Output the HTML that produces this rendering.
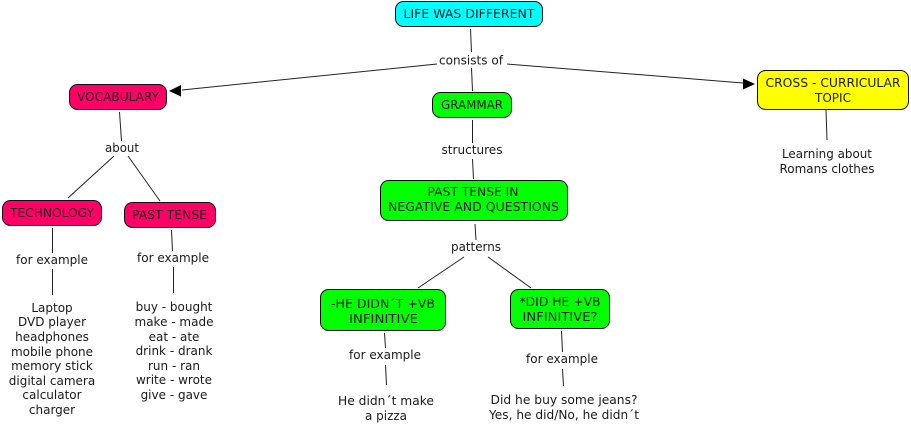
<!DOCTYPE html>
<html><head><meta charset="utf-8"><style>
html,body{margin:0;padding:0;background:#fff}
svg{display:block}
text{font-family:"DejaVu Sans","Liberation Sans",sans-serif;font-size:12px;fill:#1a1a1a;text-anchor:middle}
rect{stroke:#111;stroke-width:1}
line{stroke:#222;stroke-width:1}
</style></head><body>
<svg width="911" height="431" viewBox="0 0 911 431" xmlns="http://www.w3.org/2000/svg">
<g>
<line x1="470.500" y1="29" x2="471.500" y2="52"/>
<line x1="471.500" y1="68" x2="472.500" y2="91"/>
<line x1="437" y1="64" x2="182" y2="90"/>
<line x1="507" y1="64" x2="743" y2="83"/>
<line x1="119.500" y1="112" x2="121.500" y2="141"/>
<line x1="114" y1="156" x2="68" y2="198"/>
<line x1="128" y1="156" x2="160" y2="201"/>
<line x1="52.500" y1="228" x2="52.500" y2="253"/>
<line x1="52.500" y1="269" x2="52.500" y2="295"/>
<line x1="171.500" y1="230" x2="172.500" y2="251"/>
<line x1="173.500" y1="267" x2="173.500" y2="293"/>
<line x1="472.500" y1="120" x2="472.500" y2="143"/>
<line x1="472.500" y1="159" x2="473.500" y2="179"/>
<line x1="475" y1="224" x2="476" y2="240"/>
<line x1="464" y1="257" x2="418" y2="288"/>
<line x1="488" y1="257" x2="531" y2="288"/>
<line x1="384.500" y1="333" x2="385.500" y2="348"/>
<line x1="385.500" y1="365" x2="386.500" y2="385"/>
<line x1="561.500" y1="331" x2="562.500" y2="352"/>
<line x1="562.500" y1="369" x2="563.500" y2="386"/>
<line x1="826" y1="110" x2="827" y2="140"/>
</g>
<polygon points="169,91 181,85 181,96.500" fill="#000"/>
<polygon points="755,84 743,78.500 743,89.500" fill="#000"/>

<rect x="395.500" y="1.500" width="147" height="25" rx="8" fill="#00ffff"/>
<rect x="432.500" y="92.500" width="79" height="25" rx="8" fill="#00ff00"/>
<rect x="69.500" y="84.500" width="97" height="25" rx="8" fill="#ff0066"/>
<rect x="757.500" y="70.500" width="151" height="39" rx="8" fill="#ffff00"/>
<rect x="2.500" y="200.500" width="99" height="25" rx="8" fill="#ff0066"/>
<rect x="124.500" y="202.500" width="91" height="25" rx="8" fill="#ff0066"/>
<rect x="380.500" y="180.500" width="187" height="40" rx="8" fill="#00ff00"/>
<rect x="320.500" y="289.500" width="125" height="41" rx="8" fill="#00ff00"/>
<rect x="510.500" y="289.500" width="99" height="39" rx="8" fill="#00ff00"/>

<g>
<text x="469" y="18" textLength="131" lengthAdjust="spacingAndGlyphs">LIFE WAS DIFFERENT</text>
<text x="471" y="64.500" textLength="64" lengthAdjust="spacingAndGlyphs">consists of</text>
<text x="472" y="109" textLength="62" lengthAdjust="spacingAndGlyphs">GRAMMAR</text>
<text x="118" y="101" textLength="82" lengthAdjust="spacingAndGlyphs">VOCABULARY</text>
<text x="122" y="152" textLength="34" lengthAdjust="spacingAndGlyphs">about</text>
<text x="833" y="87" textLength="135" lengthAdjust="spacingAndGlyphs">CROSS - CURRICULAR</text>
<text x="833" y="102" textLength="36" lengthAdjust="spacingAndGlyphs">TOPIC</text>
<text x="827" y="158" textLength="90" lengthAdjust="spacingAndGlyphs">Learning about</text>
<text x="827" y="173" textLength="95" lengthAdjust="spacingAndGlyphs">Romans clothes</text>
<text x="52" y="217" textLength="84" lengthAdjust="spacingAndGlyphs">TECHNOLOGY</text>
<text x="169.500" y="219" textLength="75" lengthAdjust="spacingAndGlyphs">PAST TENSE</text>
<text x="52" y="264" textLength="72" lengthAdjust="spacingAndGlyphs">for example</text>
<text x="173" y="262" textLength="72" lengthAdjust="spacingAndGlyphs">for example</text>
<text x="52" y="312">Laptop</text>
<text x="52" y="326">DVD player</text>
<text x="52" y="341">headphones</text>
<text x="52" y="356">mobile phone</text>
<text x="52" y="370">memory stick</text>
<text x="52" y="385">digital camera</text>
<text x="52" y="399">calculator</text>
<text x="52" y="414">charger</text>
<text x="174" y="311">buy - bought</text>
<text x="174" y="326">make - made</text>
<text x="174" y="341">eat - ate</text>
<text x="174" y="355">drink - drank</text>
<text x="174" y="370">run - ran</text>
<text x="174" y="384">write - wrote</text>
<text x="174" y="399">give - gave</text>
<text x="472" y="154" textLength="61" lengthAdjust="spacingAndGlyphs">structures</text>
<text x="473" y="196" textLength="91" lengthAdjust="spacingAndGlyphs">PAST TENSE IN</text>
<text x="473.500" y="211" textLength="171" lengthAdjust="spacingAndGlyphs">NEGATIVE AND QUESTIONS</text>
<text x="476" y="251" textLength="50" lengthAdjust="spacingAndGlyphs">patterns</text>
<text x="383" y="308" textLength="104" lengthAdjust="spacingAndGlyphs">-HE DIDN´T +VB</text>
<text x="383.500" y="323" textLength="69" lengthAdjust="spacingAndGlyphs">INFINITIVE</text>
<text x="560" y="306" textLength="81" lengthAdjust="spacingAndGlyphs">*DID HE +VB</text>
<text x="560" y="321" textLength="75" lengthAdjust="spacingAndGlyphs">INFINITIVE?</text>
<text x="385" y="359" textLength="72" lengthAdjust="spacingAndGlyphs">for example</text>
<text x="562" y="363" textLength="72" lengthAdjust="spacingAndGlyphs">for example</text>
<text x="386" y="405" textLength="96" lengthAdjust="spacingAndGlyphs">He didn´t make</text>
<text x="386" y="420" textLength="42" lengthAdjust="spacingAndGlyphs">a pizza</text>
<text x="564" y="404" textLength="147" lengthAdjust="spacingAndGlyphs">Did he buy some jeans?</text>
<text x="564" y="419" textLength="150" lengthAdjust="spacingAndGlyphs">Yes, he did/No, he didn´t</text>
</g>
</svg>
</body></html>
